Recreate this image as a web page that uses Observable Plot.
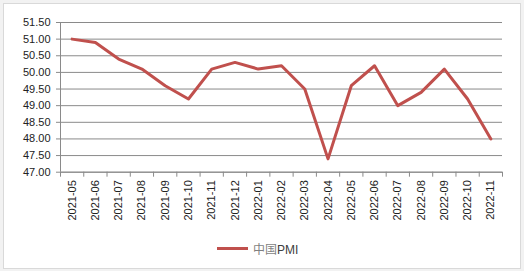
<!DOCTYPE html>
<html>
<head>
<meta charset="utf-8">
<script src="https://cdn.jsdelivr.net/npm/d3@7"></script>
<script src="https://cdn.jsdelivr.net/npm/@observablehq/plot@0.6"></script>
<style>
  html, body { margin: 0; padding: 0; background: #ffffff; }
  #wrap { position: relative; width: 524px; height: 271px; background: #f2f2f2; overflow: hidden; font-family: "Liberation Sans", Arial, sans-serif; }
  #frame { position: absolute; left: 3px; top: 3px; width: 516px; height: 264px; border: 1px solid #d9d9d9; background: #ffffff; }
  #chart { position: absolute; left: 0; top: 0; }
  #legend { position: absolute; left: 217px; top: 240px; display: flex; align-items: center; font-size: 12px; color: #404040; }
  #legend .sw { width: 31px; height: 3px; background: #c0504d; margin-right: 5px; }
  #legend .cjk { font-family: "Noto Sans CJK SC", sans-serif; color: #7f7f7f; }
</style>
</head>
<body>
<div id="wrap">
  <div id="frame"></div>
  <div id="chart"></div>
  <div id="legend"><div class="sw"></div><span><span class="cjk">中国</span>PMI</span></div>
</div>
<script>
const categories = ["2021-05","2021-06","2021-07","2021-08","2021-09","2021-10","2021-11","2021-12",
  "2022-01","2022-02","2022-03","2022-04","2022-05","2022-06","2022-07","2022-08","2022-09","2022-10","2022-11"];
const pmi = [51.0, 50.9, 50.4, 50.1, 49.6, 49.2, 50.1, 50.3, 50.1, 50.2, 49.5, 47.4, 49.6, 50.2, 49.0, 49.4, 50.1, 49.2, 48.0];
const yTicks = [47.0, 47.5, 48.0, 48.5, 49.0, 49.5, 50.0, 50.5, 51.0, 51.5];
const seriesName = "中国PMI";

const data = categories.map((c, i) => ({i, c, v: pmi[i]}));
const centers = categories.map((c, i) => i);
const boundaries = d3.range(categories.length + 1).map(k => k - 0.5);

const W = 524, H = 240;
const plot = Plot.plot({
  width: W,
  height: H,
  marginLeft: 60,
  marginRight: 22,
  marginTop: 22,
  marginBottom: H - 171.7,
  style: {background: "transparent", fontFamily: "Liberation Sans, Arial, sans-serif", color: "#222"},
  x: {type: "linear", domain: [-0.5, categories.length - 0.5]},
  y: {domain: [47, 51.5]},
  marks: [
    Plot.gridY(yTicks, {stroke: "#8a8a8a", strokeOpacity: 1, strokeWidth: 1}),
    Plot.ruleX([-0.5], {stroke: "#8a8a8a"}),
    Plot.axisY(yTicks, {tickFormat: d => d.toFixed(2), tickSize: 4, tickPadding: 6, stroke: "#8a8a8a", fontSize: 11, fill: "#222", label: null}),
    Plot.ruleY([47], {stroke: "#8a8a8a"}),
    Plot.axisX(boundaries, {tickSize: 5, tickFormat: () => "", stroke: "#8a8a8a", label: null}),
    Plot.axisX(centers, {tickSize: 0, tickPadding: 8, tickRotate: -90, tickFormat: i => categories[i], fontSize: 11, fill: "#222", label: null}),
    Plot.line(data, {x: "i", y: "v", stroke: "#c0504d", strokeWidth: 3, strokeLinejoin: "round", strokeLinecap: "round"})
  ]
});
document.getElementById("chart").appendChild(plot);
</script>
</body>
</html>
